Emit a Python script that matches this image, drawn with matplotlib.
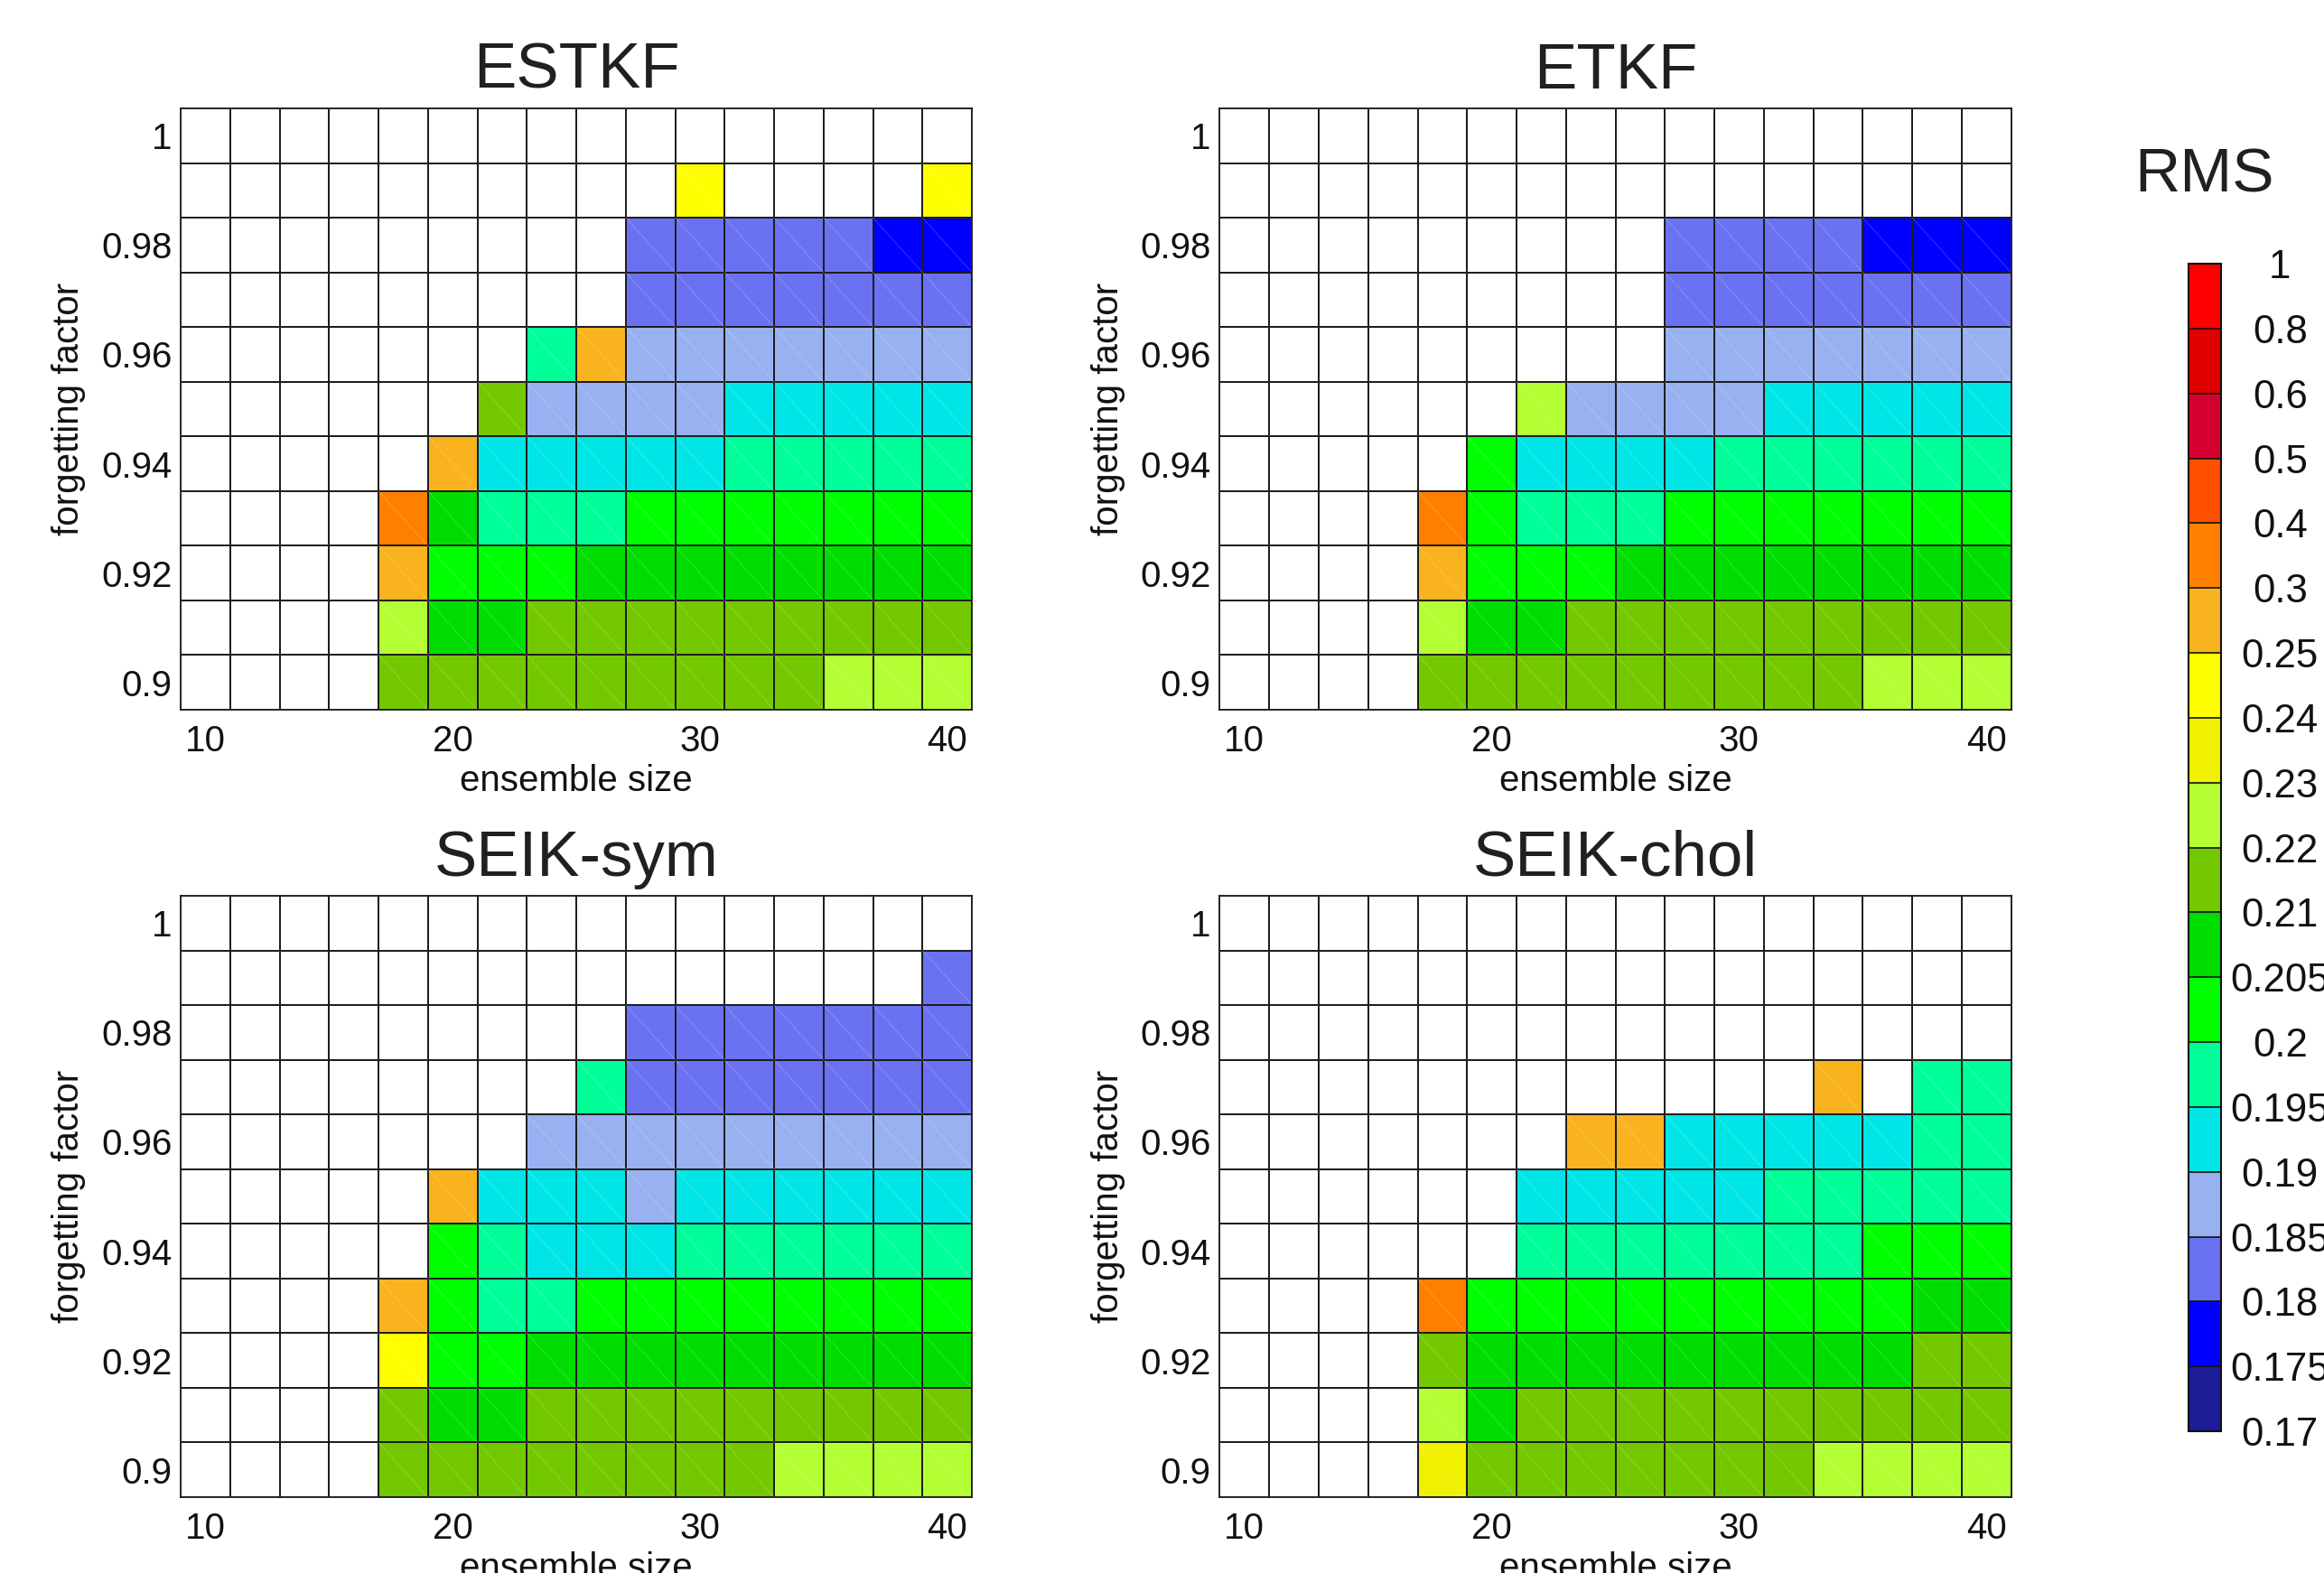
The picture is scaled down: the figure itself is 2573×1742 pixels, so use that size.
import numpy as np
import matplotlib
matplotlib.use("Agg")
import matplotlib.pyplot as plt
import matplotlib.cm as cm
from matplotlib.colors import ListedColormap, BoundaryNorm
from matplotlib.collections import LineCollection

plt.rcParams['font.family'] = ['Liberation Sans', 'DejaVu Sans']
plt.rcParams['text.color'] = '#231f20'

nan = np.nan

# grid of the experiments
ensemble_size = [10, 12, 14, 16, 18, 20, 22, 24, 26, 28, 30, 32, 34, 36, 38, 40]
forgetting_factor = [1.00, 0.99, 0.98, 0.97, 0.96, 0.95, 0.94, 0.93, 0.92, 0.91, 0.90]

# colour levels of the RMS error
levels = [0.17, 0.175, 0.18, 0.185, 0.19, 0.195, 0.2, 0.205, 0.21, 0.22,
          0.23, 0.24, 0.25, 0.3, 0.4, 0.5, 0.6, 0.8, 1]
level_labels = ['0.17', '0.175', '0.18', '0.185', '0.19', '0.195', '0.2', '0.205',
                '0.21', '0.22', '0.23', '0.24', '0.25', '0.3', '0.4', '0.5', '0.6',
                '0.8', '1']
level_colors = ['#1c1c96', '#0000ff', '#6a72f2', '#98b1f0', '#00e6e6', '#00ff99',
                '#00ff00', '#00dd00', '#73c800', '#b3ff33', '#f0f000', '#ffff00',
                '#f8b31f', '#ff8000', '#ff5000', '#d5002f', '#e00000', '#ff0000']

# RMS values, rows from forgetting factor 1.00 (top) down to 0.90 (bottom)
rms_estkf = [
    [nan, nan, nan, nan, nan, nan, nan, nan, nan, nan, nan, nan, nan, nan, nan, nan],
    [nan, nan, nan, nan, nan, nan, nan, nan, nan, nan, 0.245, nan, nan, nan, nan, 0.245],
    [nan, nan, nan, nan, nan, nan, nan, nan, nan, 0.1825, 0.1825, 0.1825, 0.1825, 0.1825, 0.1775, 0.1775],
    [nan, nan, nan, nan, nan, nan, nan, nan, nan, 0.1825, 0.1825, 0.1825, 0.1825, 0.1825, 0.1825, 0.1825],
    [nan, nan, nan, nan, nan, nan, nan, 0.1975, 0.275, 0.1875, 0.1875, 0.1875, 0.1875, 0.1875, 0.1875, 0.1875],
    [nan, nan, nan, nan, nan, nan, 0.215, 0.1875, 0.1875, 0.1875, 0.1875, 0.1925, 0.1925, 0.1925, 0.1925, 0.1925],
    [nan, nan, nan, nan, nan, 0.275, 0.1925, 0.1925, 0.1925, 0.1925, 0.1925, 0.1975, 0.1975, 0.1975, 0.1975, 0.1975],
    [nan, nan, nan, nan, 0.35, 0.2075, 0.1975, 0.1975, 0.1975, 0.2025, 0.2025, 0.2025, 0.2025, 0.2025, 0.2025, 0.2025],
    [nan, nan, nan, nan, 0.275, 0.2025, 0.2025, 0.2025, 0.2075, 0.2075, 0.2075, 0.2075, 0.2075, 0.2075, 0.2075, 0.2075],
    [nan, nan, nan, nan, 0.225, 0.2075, 0.2075, 0.215, 0.215, 0.215, 0.215, 0.215, 0.215, 0.215, 0.215, 0.215],
    [nan, nan, nan, nan, 0.215, 0.215, 0.215, 0.215, 0.215, 0.215, 0.215, 0.215, 0.215, 0.225, 0.225, 0.225],
]

rms_etkf = [
    [nan, nan, nan, nan, nan, nan, nan, nan, nan, nan, nan, nan, nan, nan, nan, nan],
    [nan, nan, nan, nan, nan, nan, nan, nan, nan, nan, nan, nan, nan, nan, nan, nan],
    [nan, nan, nan, nan, nan, nan, nan, nan, nan, 0.1825, 0.1825, 0.1825, 0.1825, 0.1775, 0.1775, 0.1775],
    [nan, nan, nan, nan, nan, nan, nan, nan, nan, 0.1825, 0.1825, 0.1825, 0.1825, 0.1825, 0.1825, 0.1825],
    [nan, nan, nan, nan, nan, nan, nan, nan, nan, 0.1875, 0.1875, 0.1875, 0.1875, 0.1875, 0.1875, 0.1875],
    [nan, nan, nan, nan, nan, nan, 0.225, 0.1875, 0.1875, 0.1875, 0.1875, 0.1925, 0.1925, 0.1925, 0.1925, 0.1925],
    [nan, nan, nan, nan, nan, 0.2025, 0.1925, 0.1925, 0.1925, 0.1925, 0.1975, 0.1975, 0.1975, 0.1975, 0.1975, 0.1975],
    [nan, nan, nan, nan, 0.35, 0.2025, 0.1975, 0.1975, 0.1975, 0.2025, 0.2025, 0.2025, 0.2025, 0.2025, 0.2025, 0.2025],
    [nan, nan, nan, nan, 0.275, 0.2025, 0.2025, 0.2025, 0.2075, 0.2075, 0.2075, 0.2075, 0.2075, 0.2075, 0.2075, 0.2075],
    [nan, nan, nan, nan, 0.225, 0.2075, 0.2075, 0.215, 0.215, 0.215, 0.215, 0.215, 0.215, 0.215, 0.215, 0.215],
    [nan, nan, nan, nan, 0.215, 0.215, 0.215, 0.215, 0.215, 0.215, 0.215, 0.215, 0.215, 0.225, 0.225, 0.225],
]

rms_seik_sym = [
    [nan, nan, nan, nan, nan, nan, nan, nan, nan, nan, nan, nan, nan, nan, nan, nan],
    [nan, nan, nan, nan, nan, nan, nan, nan, nan, nan, nan, nan, nan, nan, nan, 0.1825],
    [nan, nan, nan, nan, nan, nan, nan, nan, nan, 0.1825, 0.1825, 0.1825, 0.1825, 0.1825, 0.1825, 0.1825],
    [nan, nan, nan, nan, nan, nan, nan, nan, 0.1975, 0.1825, 0.1825, 0.1825, 0.1825, 0.1825, 0.1825, 0.1825],
    [nan, nan, nan, nan, nan, nan, nan, 0.1875, 0.1875, 0.1875, 0.1875, 0.1875, 0.1875, 0.1875, 0.1875, 0.1875],
    [nan, nan, nan, nan, nan, 0.275, 0.1925, 0.1925, 0.1925, 0.1875, 0.1925, 0.1925, 0.1925, 0.1925, 0.1925, 0.1925],
    [nan, nan, nan, nan, nan, 0.2025, 0.1975, 0.1925, 0.1925, 0.1925, 0.1975, 0.1975, 0.1975, 0.1975, 0.1975, 0.1975],
    [nan, nan, nan, nan, 0.275, 0.2025, 0.1975, 0.1975, 0.2025, 0.2025, 0.2025, 0.2025, 0.2025, 0.2025, 0.2025, 0.2025],
    [nan, nan, nan, nan, 0.245, 0.2025, 0.2025, 0.2075, 0.2075, 0.2075, 0.2075, 0.2075, 0.2075, 0.2075, 0.2075, 0.2075],
    [nan, nan, nan, nan, 0.215, 0.2075, 0.2075, 0.215, 0.215, 0.215, 0.215, 0.215, 0.215, 0.215, 0.215, 0.215],
    [nan, nan, nan, nan, 0.215, 0.215, 0.215, 0.215, 0.215, 0.215, 0.215, 0.215, 0.225, 0.225, 0.225, 0.225],
]

rms_seik_chol = [
    [nan, nan, nan, nan, nan, nan, nan, nan, nan, nan, nan, nan, nan, nan, nan, nan],
    [nan, nan, nan, nan, nan, nan, nan, nan, nan, nan, nan, nan, nan, nan, nan, nan],
    [nan, nan, nan, nan, nan, nan, nan, nan, nan, nan, nan, nan, nan, nan, nan, nan],
    [nan, nan, nan, nan, nan, nan, nan, nan, nan, nan, nan, nan, 0.275, nan, 0.1975, 0.1975],
    [nan, nan, nan, nan, nan, nan, nan, 0.275, 0.275, 0.1925, 0.1925, 0.1925, 0.1925, 0.1925, 0.1975, 0.1975],
    [nan, nan, nan, nan, nan, nan, 0.1925, 0.1925, 0.1925, 0.1925, 0.1925, 0.1975, 0.1975, 0.1975, 0.1975, 0.1975],
    [nan, nan, nan, nan, nan, nan, 0.1975, 0.1975, 0.1975, 0.1975, 0.1975, 0.1975, 0.1975, 0.2025, 0.2025, 0.2025],
    [nan, nan, nan, nan, 0.35, 0.2025, 0.2025, 0.2025, 0.2025, 0.2025, 0.2025, 0.2025, 0.2025, 0.2025, 0.2075, 0.2075],
    [nan, nan, nan, nan, 0.215, 0.2075, 0.2075, 0.2075, 0.2075, 0.2075, 0.2075, 0.2075, 0.2075, 0.2075, 0.215, 0.215],
    [nan, nan, nan, nan, 0.225, 0.2075, 0.215, 0.215, 0.215, 0.215, 0.215, 0.215, 0.215, 0.215, 0.215, 0.215],
    [nan, nan, nan, nan, 0.235, 0.215, 0.215, 0.215, 0.215, 0.215, 0.215, 0.215, 0.225, 0.225, 0.225, 0.225],
]

panel_titles = ['ESTKF', 'ETKF', 'SEIK-sym', 'SEIK-chol']
panel_data = [rms_estkf, rms_etkf, rms_seik_sym, rms_seik_chol]

x_ticks = [10, 20, 30, 40]
y_ticks = [0.90, 0.92, 0.94, 0.96, 0.98, 1.00]
y_tick_labels = ['0.9', '0.92', '0.94', '0.96', '0.98', '1']

W, H = 2573, 1742
fig = plt.figure(figsize=(W / 100, H / 100), dpi=100)

cmap = ListedColormap(level_colors)
cmap.set_bad('white')
norm = BoundaryNorm(levels, cmap.N)

# axes rectangles in figure fractions (left, bottom, width, height)
ax_w, ax_h = 876 / W, 666 / H
rects = [(200 / W, 956 / H, ax_w, ax_h), (1350.5 / W, 956 / H, ax_w, ax_h),
         (200 / W, 84 / H, ax_w, ax_h), (1350.5 / W, 84 / H, ax_w, ax_h)]

edge = '#1e1e1e'
x = np.array(ensemble_size)
y = np.array(forgetting_factor)
dx = 1.0
dy = 0.005

for title, data, rect in zip(panel_titles, panel_data, rects):
    ax = fig.add_axes(rect)
    z = np.ma.masked_invalid(np.array(data))
    ax.pcolormesh(x, y, z, cmap=cmap, norm=norm, shading='nearest',
                  edgecolors=edge, linewidth=1.1)

    # faint diagonals of the triangulated cells
    segs = []
    for i, ff in enumerate(y):
        for j, n in enumerate(x):
            if not np.isnan(data[i][j]):
                segs.append([(n - dx, ff + dy), (n + dx, ff - dy)])
    ax.add_collection(LineCollection(segs, colors='white', linewidths=0.8, alpha=0.18))

    ax.set_xlim(9, 41)
    ax.set_ylim(0.895, 1.005)
    ax.set_xticks(x_ticks)
    ax.set_yticks(y_ticks)
    ax.set_yticklabels(y_tick_labels)
    ax.tick_params(axis='both', length=0, labelsize=29, colors='#111111')
    ax.tick_params(axis='x', pad=11.5)
    ax.tick_params(axis='y', pad=7)
    for sp in ax.spines.values():
        sp.set_color(edge)
        sp.set_linewidth(1.3)
    ax.set_title(title, fontsize=51, pad=16)
    ax.set_xlabel('ensemble size', fontsize=29, labelpad=4, color='#111111')
    ax.set_ylabel('forgetting factor', fontsize=29, labelpad=12, color='#111111')

# colour bar
cax = fig.add_axes([2423 / W, 157 / H, 36 / W, 1293 / H])
sm = cm.ScalarMappable(norm=norm, cmap=cmap)
cb = fig.colorbar(sm, cax=cax, spacing='uniform', ticks=levels, drawedges=True)
cb.ax.set_yticklabels(level_labels)
cb.ax.tick_params(length=0, labelsize=31.5, pad=47, colors='#111111')
for lab in cb.ax.get_yticklabels():
    lab.set_ha('center')
cb.outline.set_linewidth(1.5)
cb.outline.set_edgecolor('#111111')
cb.dividers.set_linewidth(1.2)
cb.dividers.set_color('#111111')
cax.set_title('RMS', fontsize=50, pad=57)

fig.savefig('out.png', dpi=100)
